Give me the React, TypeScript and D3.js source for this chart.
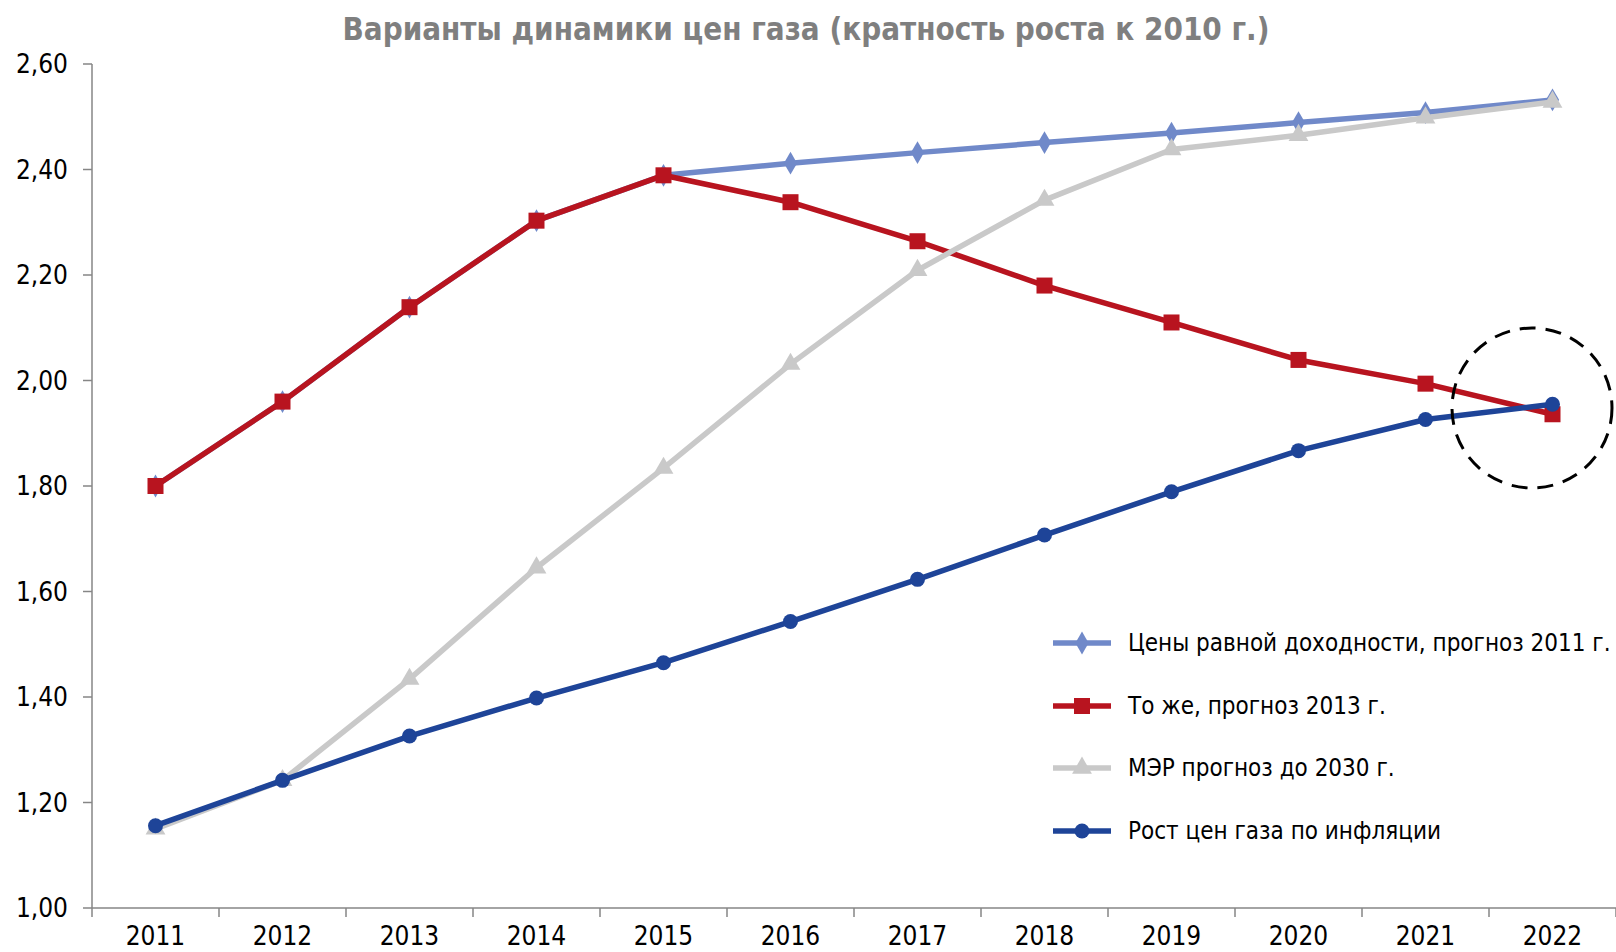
import React from "react";
import * as d3 from "d3";

const years = ["2011","2012","2013","2014","2015","2016","2017","2018","2019","2020","2021","2022"];
const seriesNames = [
  "Цены равной доходности, прогноз 2011 г.",
  "То же, прогноз 2013 г.",
  "МЭР прогноз до 2030 г.",
  "Рост цен газа по инфляции",
];
const equalYield2011 = [1.80, 1.96, 2.139, 2.303, 2.389, 2.412, 2.432, 2.451, 2.469, 2.489, 2.508, 2.532];
const equalYield2013 = [1.80, 1.96, 2.139, 2.303, 2.389, 2.338, 2.264, 2.180, 2.110, 2.039, 1.994, 1.936];
const merForecast = [1.15, 1.242, 1.434, 1.645, 1.834, 2.031, 2.209, 2.342, 2.438, 2.465, 2.498, 2.528];
const inflationGrowth = [1.156, 1.242, 1.326, 1.398, 1.465, 1.543, 1.623, 1.707, 1.789, 1.867, 1.926, 1.955];
const yTicks = [1.0, 1.2, 1.4, 1.6, 1.8, 2.0, 2.2, 2.4, 2.6];
const title = "Варианты динамики цен газа (кратность роста к 2010 г.)";

const colors = ["#7089C9", "#B8141F", "#C9C9C9", "#1E4498"];
const markers = ["diamond", "square", "triangle", "circle"];
const allSeries = [equalYield2011, equalYield2013, merForecast, inflationGrowth];

const W = 1616, H = 952;
const left = 92, right = 1616, top = 64, bottom = 908;
const tickFont = "'Liberation Sans Narrow', 'DejaVu Sans Condensed', 'Noto Sans', sans-serif";

function Marker({ type, x, y, color }: { type: string; x: number; y: number; color: string }) {
  if (type === "square") return <rect x={x - 8} y={y - 8} width={16} height={16} fill={color} />;
  if (type === "circle") return <circle cx={x} cy={y} r={7.5} fill={color} />;
  const sym = type === "diamond" ? d3.symbolDiamond : d3.symbolTriangle;
  const size = type === "diamond" ? 150 : 170;
  const p = d3.symbol().type(sym).size(size)();
  return <path d={p || ""} transform={`translate(${x},${y})`} fill={color} />;
}

export default function App() {
  const x = d3.scaleBand<string>().domain(years).range([left, right]).paddingInner(0).paddingOuter(0);
  const y = d3.scaleLinear().domain([1.0, 2.6]).range([bottom, top]);
  const cx = (yr: string) => (x(yr) as number) + x.bandwidth() / 2;
  const line = d3.line<number>().x((_, i) => cx(years[i])).y((v) => y(v));
  const boundaries = d3.range(years.length + 1).map((i) => left + i * x.step());
  const legendY = [643, 706, 768, 831];

  return (
    <svg width={W} height={H} style={{ position: "absolute", left: 0, top: 0, background: "#fff" }}>
      <text x={806} y={40} textAnchor="middle" fontFamily={tickFont} fontWeight="bold" fontSize={32}
        textLength={927} lengthAdjust="spacingAndGlyphs" fill="#7F7F7F">
        {title}
      </text>
      {/* axes */}
      <line x1={left} x2={left} y1={top} y2={bottom} stroke="#868686" strokeWidth={1.5} />
      <line x1={left} x2={right} y1={bottom} y2={bottom} stroke="#868686" strokeWidth={1.5} />
      {yTicks.map((t) => (
        <g key={t}>
          <line x1={left - 9} x2={left} y1={y(t)} y2={y(t)} stroke="#868686" strokeWidth={1.5} />
          <text x={68} y={y(t)} dy="0.35em" textAnchor="end" fontFamily={tickFont} fontSize={26} fill="#000">
            {d3.format(".2f")(t).replace(".", ",")}
          </text>
        </g>
      ))}
      {boundaries.map((b, i) => (
        <line key={i} x1={b} x2={b} y1={bottom} y2={bottom + 9} stroke="#868686" strokeWidth={1.5} />
      ))}
      {years.map((yr) => (
        <text key={yr} x={cx(yr)} y={945} textAnchor="middle" fontFamily={tickFont} fontSize={26} fill="#000">
          {yr}
        </text>
      ))}
      {/* series */}
      {allSeries.map((s, si) => (
        <g key={si}>
          <path d={line(s) || ""} fill="none" stroke={colors[si]} strokeWidth={5.5} strokeLinejoin="round" />
          {s.map((v, i) => (
            <Marker key={i} type={markers[si]} x={cx(years[i])} y={y(v)} color={colors[si]} />
          ))}
        </g>
      ))}
      {/* dashed circle */}
      <ellipse cx={1532} cy={408} rx={80} ry={80} fill="none" stroke="#000" strokeWidth={3} strokeDasharray="16 10" />
      {/* legend */}
      {seriesNames.map((n, i) => (
        <g key={n}>
          <line x1={1053} x2={1111} y1={legendY[i]} y2={legendY[i]} stroke={colors[i]} strokeWidth={5.5} />
          <Marker type={markers[i]} x={1082} y={legendY[i]} color={colors[i]} />
          <text x={1128} y={legendY[i]} dy="0.35em" fontFamily={tickFont} fontSize={24} fill="#000">
            {n}
          </text>
        </g>
      ))}
    </svg>
  );
}
